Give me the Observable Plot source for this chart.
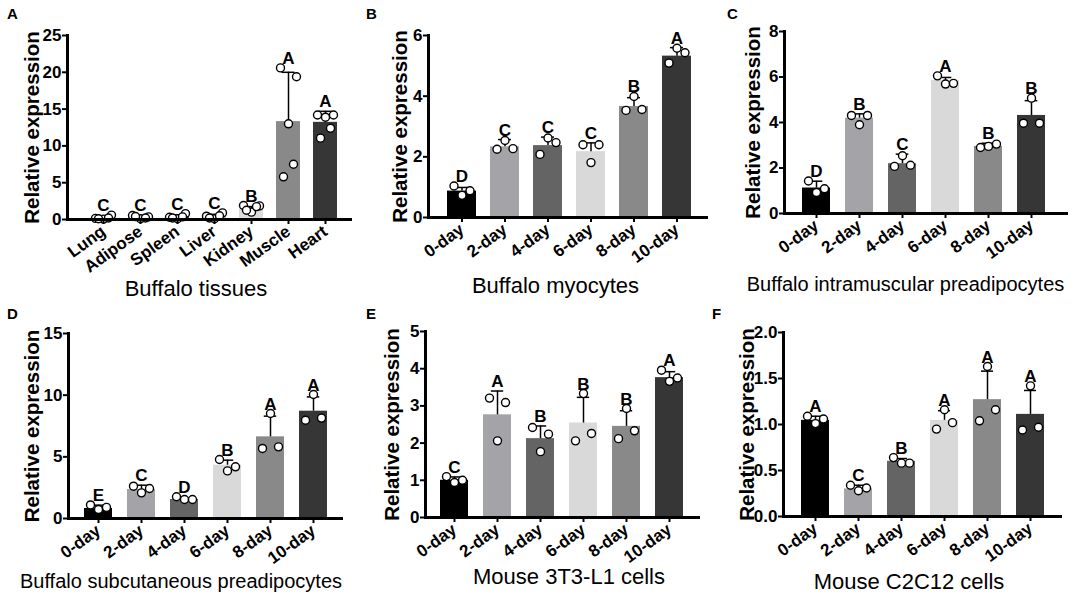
<!DOCTYPE html>
<html>
<head>
<meta charset="utf-8">
<script src="https://cdn.jsdelivr.net/npm/d3@7"></script>
<script src="https://cdn.jsdelivr.net/npm/@observablehq/plot@0.6"></script>
<style>
  html, body { margin: 0; padding: 0; background: #fff; }
  #root { position: relative; width: 1084px; height: 600px; overflow: hidden; font-family: "Liberation Sans", Arial, sans-serif; }
  .panel { position: absolute; }
  .plabel { position: absolute; font: bold 15px "Liberation Sans", Arial, sans-serif; color: #000; }
  svg { font-family: "Liberation Sans", Arial, sans-serif; overflow: visible; }
  svg [aria-label="y-axis tick label"] text, svg [aria-label="x-axis tick label"] text { font-size: 17px; font-weight: bold; }
</style>
</head>
<body>
<div id="root"></div>
<script>
// ---------- Data ----------
const tissueCats = ["Lung", "Adipose", "Spleen", "Liver", "Kidney", "Muscle", "Heart"];
const dayCats = ["0-day", "2-day", "4-day", "6-day", "8-day", "10-day"];

const tissueColors = ["#000000", "#a3a3a8", "#646464", "#bdbdbd", "#dcdcdc", "#898989", "#363636"];
const dayColors = ["#000000", "#a3a3a8", "#646464", "#d9d9d9", "#898989", "#363636"];

// A: Buffalo tissues
const aMean = [0.25, 0.35, 0.4, 0.42, 1.45, 13.3, 13.2];
const aErr = [0.45, 0.45, 0.6, 0.7, 1.75, 20.0, 14.7];
const aReps = [
  [0.15, 0.05, 0.6, 0.2, 0.1],
  [0.55, 0.1, 0.35, 0.2, 0.4],
  [0.3, 0.1, 0.8, 0.35, 0.2],
  [0.45, 0.1, 0.9, 0.5, 0.2],
  [1.9, 1.0, 1.85, 1.75, 1.25],
  [20.6, 13.0, 19.4, 7.5, 5.8],
  [14.2, 13.9, 14.2, 12.4, 11.05]
];
const aLetters = ["C", "C", "C", "C", "B", "A", "A"];

// B: Buffalo myocytes
const bMean = [0.87, 2.33, 2.37, 2.17, 3.66, 5.32];
const bErr = [0.99, 2.57, 2.65, 2.46, 3.95, 5.6];
const bReps = [[1.04, 0.73, 0.88], [2.25, 2.54, 2.27], [2.08, 2.62, 2.47], [2.40, 1.81, 2.40], [3.53, 3.99, 3.56], [5.09, 5.58, 5.43]];
const bLetters = ["D", "C", "C", "C", "B", "A"];

// C: Buffalo intramuscular preadipocytes
const cMean = [1.12, 4.19, 2.19, 5.85, 2.95, 4.31];
const cErr = [1.42, 4.38, 2.61, 5.98, 3.09, 4.96];
const cReps = [[1.43, 0.92, 1.09], [4.31, 3.90, 4.31], [2.07, 2.54, 2.12], [6.05, 5.69, 5.72], [2.9, 2.95, 3.05], [3.97, 5.07, 3.97]];
const cLetters = ["D", "B", "C", "A", "B", "B"];

// D: Buffalo subcutaneous preadipocytes
const dMean = [0.81, 2.35, 1.54, 4.32, 6.62, 8.7];
const dErr = [1.08, 2.7, 1.62, 4.73, 8.3, 9.86];
const dReps = [[1.1, 0.73, 0.9], [2.62, 2.08, 2.43], [1.76, 1.54, 1.54], [4.78, 3.86, 4.19], [5.68, 8.51, 5.81], [7.97, 10.05, 8.14]];
const dLetters = ["E", "C", "D", "B", "A", "A"];

// E: Mouse 3T3-L1 cells
const eMean = [1.0, 2.76, 2.12, 2.54, 2.45, 3.76];
const eErr = [1.09, 3.4, 2.46, 3.23, 2.87, 3.92];
const eReps = [[1.1, 0.94, 1.0], [3.21, 2.06, 3.09], [2.42, 1.77, 2.24], [2.06, 3.33, 2.26], [2.12, 2.93, 2.33], [3.96, 3.66, 3.75]];
const eLetters = ["C", "A", "B", "B", "B", "A"];

// F: Mouse C2C12 cells
const fMean = [1.045, 0.30, 0.60, 1.045, 1.27, 1.11];
const fErr = [1.09, 0.34, 0.63, 1.15, 1.58, 1.37];
const fReps = [[1.09, 1.01, 1.06], [0.34, 0.28, 0.31], [0.64, 0.58, 0.58], [0.95, 1.16, 1.02], [1.04, 1.63, 1.16], [0.94, 1.42, 0.97]];
const fLetters = ["A", "C", "B", "A", "A", "A"];

// ---------- Panels ----------
const panels = [
  {tag: "A", left: 0, top: 0, width: 360, cats: tissueCats, colors: tissueColors, mean: aMean, err: aErr, reps: aReps, letters: aLetters,
   yMax: 25, yTicks: [0, 5, 10, 15, 20, 25], fmt: d3.format("d"), m: {l: 67, t: 35, b: 81, r: 8}, xRange: [84.5, 343.5], pad: 0.35,
   xTitle: "Buffalo tissues", xFont: 22, xdx: -14, xdy: 76, ydx: -35, jitter: [-8, 0, 8, 5, -5], labelPos: [7, 5]},
  {tag: "B", left: 360, top: 0, width: 360, cats: dayCats, colors: dayColors, mean: bMean, err: bErr, reps: bReps, letters: bLetters,
   yMax: 6, yTicks: [0, 2, 4, 6], fmt: d3.format("d"), m: {l: 68, t: 35, b: 83, r: 12}, xRange: [78.3, 338.7], pad: 0.33,
   xTitle: "Buffalo myocytes", xFont: 22, xdx: -13, xdy: 75, ydx: -28, jitter: [-8, 0, 8], labelPos: [366, 5]},
  {tag: "C", left: 720, top: 0, width: 364, cats: dayCats, colors: dayColors, mean: cMean, err: cErr, reps: cReps, letters: cLetters,
   yMax: 8, yTicks: [0, 2, 4, 6, 8], fmt: d3.format("d"), m: {l: 64, t: 31, b: 87, r: 16}, xRange: [72.2, 333.8], pad: 0.35,
   xTitle: "Buffalo intramuscular preadipocytes", xFont: 20, xdx: -21, xdy: 77, ydx: -31, jitter: [-8, 0, 8], labelPos: [727, 5]},
  {tag: "D", left: 0, top: 300, width: 360, cats: dayCats, colors: dayColors, mean: dMean, err: dErr, reps: dReps, letters: dLetters,
   yMax: 15, yTicks: [0, 5, 10, 15], fmt: d3.format("d"), m: {l: 68, t: 33, b: 82, r: 17}, xRange: [74.1, 337], pad: 0.35,
   xTitle: "Buffalo subcutaneous preadipocytes", xFont: 20, xdx: -25, xdy: 69, ydx: -36, jitter: [-8, 0, 8], labelPos: [7, 305]},
  {tag: "E", left: 360, top: 300, width: 360, cats: dayCats, colors: dayColors, mean: eMean, err: eErr, reps: eReps, letters: eLetters,
   yMax: 5, yTicks: [0, 1, 2, 3, 4, 5], fmt: d3.format("d"), m: {l: 65, t: 31, b: 83, r: 20}, xRange: [71.3, 331.7], pad: 0.34,
   xTitle: "Mouse 3T3-L1 cells", xFont: 22, xdx: 6, xdy: 66, ydx: -33, jitter: [-8, 0, 8], labelPos: [366, 305]},
  {tag: "F", left: 720, top: 300, width: 364, cats: dayCats, colors: dayColors, mean: fMean, err: fErr, reps: fReps, letters: fLetters,
   yMax: 2, yTicks: [0, 0.5, 1, 1.5, 2], fmt: d3.format(".1f"), m: {l: 63, t: 32, b: 84, r: 22}, xRange: [71.1, 333.9], pad: 0.34,
   xTitle: "Mouse C2C12 cells", xFont: 22, xdx: -14, xdy: 72, ydx: -36, jitter: [-8, 0, 8], labelPos: [712, 305]}
];

const root = document.getElementById("root");

for (const p of panels) {
  const rows = p.cats.map((c, i) => ({
    cat: c, mean: p.mean[i], err: p.err[i], letter: p.letters[i],
    top: Math.max(p.err[i], ...p.reps[i])
  }));
  const dots = [];
  p.reps.forEach((arr, i) => arr.forEach((v, j) => dots.push({cat: p.cats[i], v, j})));

  const bandwidth = (p.xRange[1] - p.xRange[0]) / p.cats.length * (1 - p.pad);
  const capInset = Math.max(0, (bandwidth - 13) / 2);

  const marks = [
    Plot.barY(rows, {x: "cat", y: "mean", fill: "cat"}),
    Plot.ruleX(rows, {x: "cat", y1: "mean", y2: "err", stroke: "#000", strokeWidth: 1.5}),
    Plot.tickY(rows, {x: "cat", y: "err", stroke: "#000", strokeWidth: 1.5, insetLeft: capInset, insetRight: capInset}),
    ...p.jitter.map((dx, j) => Plot.dot(dots.filter(d => d.j === j), {x: "cat", y: "v", dx, r: 4, fill: "#fff", stroke: "#000", strokeWidth: 1.4})),
    Plot.text(rows, {x: "cat", y: "top", text: "letter", dy: -4, lineAnchor: "bottom", fontSize: 17, fontWeight: "bold", fill: "#000"}),
    Plot.ruleY([0], {stroke: "#000", strokeWidth: 3}),
    Plot.frame({anchor: "left", stroke: "#000", strokeWidth: 3}),
    Plot.axisY({ticks: p.yTicks, tickFormat: p.fmt, tickSize: 5, tickPadding: 1, fontSize: 17, fontWeight: "bold", strokeWidth: 2, label: null}),
    Plot.axisX({tickSize: 5, tickPadding: 5, tickRotate: -36, fontSize: 17, fontWeight: "bold", strokeWidth: 2, label: null}),
    Plot.text(["Relative expression"], {frameAnchor: "left", textAnchor: "middle", rotate: -90, dx: p.ydx, fontSize: 20.5, fontWeight: "bold", fill: "#000"}),
    Plot.text([p.xTitle], {frameAnchor: "bottom", textAnchor: "middle", dx: p.xdx, dy: p.xdy, fontSize: p.xFont, fill: "#000"})
  ];

  const chart = Plot.plot({
    width: p.width,
    height: 300,
    marginLeft: p.m.l, marginTop: p.m.t, marginBottom: p.m.b, marginRight: p.m.r,
    style: {background: "transparent", color: "#000", fontFamily: "Liberation Sans, Arial, sans-serif"},
    x: {domain: p.cats, range: p.xRange, paddingInner: p.pad, paddingOuter: p.pad / 2},
    y: {domain: [0, p.yMax], nice: false},
    color: {domain: p.cats, range: p.colors},
    marks
  });
  const wrap = document.createElement("div");
  wrap.className = "panel";
  wrap.style.left = p.left + "px";
  wrap.style.top = p.top + "px";
  wrap.appendChild(chart);
  root.appendChild(wrap);

  const lab = document.createElement("div");
  lab.className = "plabel";
  lab.style.left = p.labelPos[0] + "px";
  lab.style.top = p.labelPos[1] + "px";
  lab.textContent = p.tag;
  root.appendChild(lab);
}
</script>
</body>
</html>
